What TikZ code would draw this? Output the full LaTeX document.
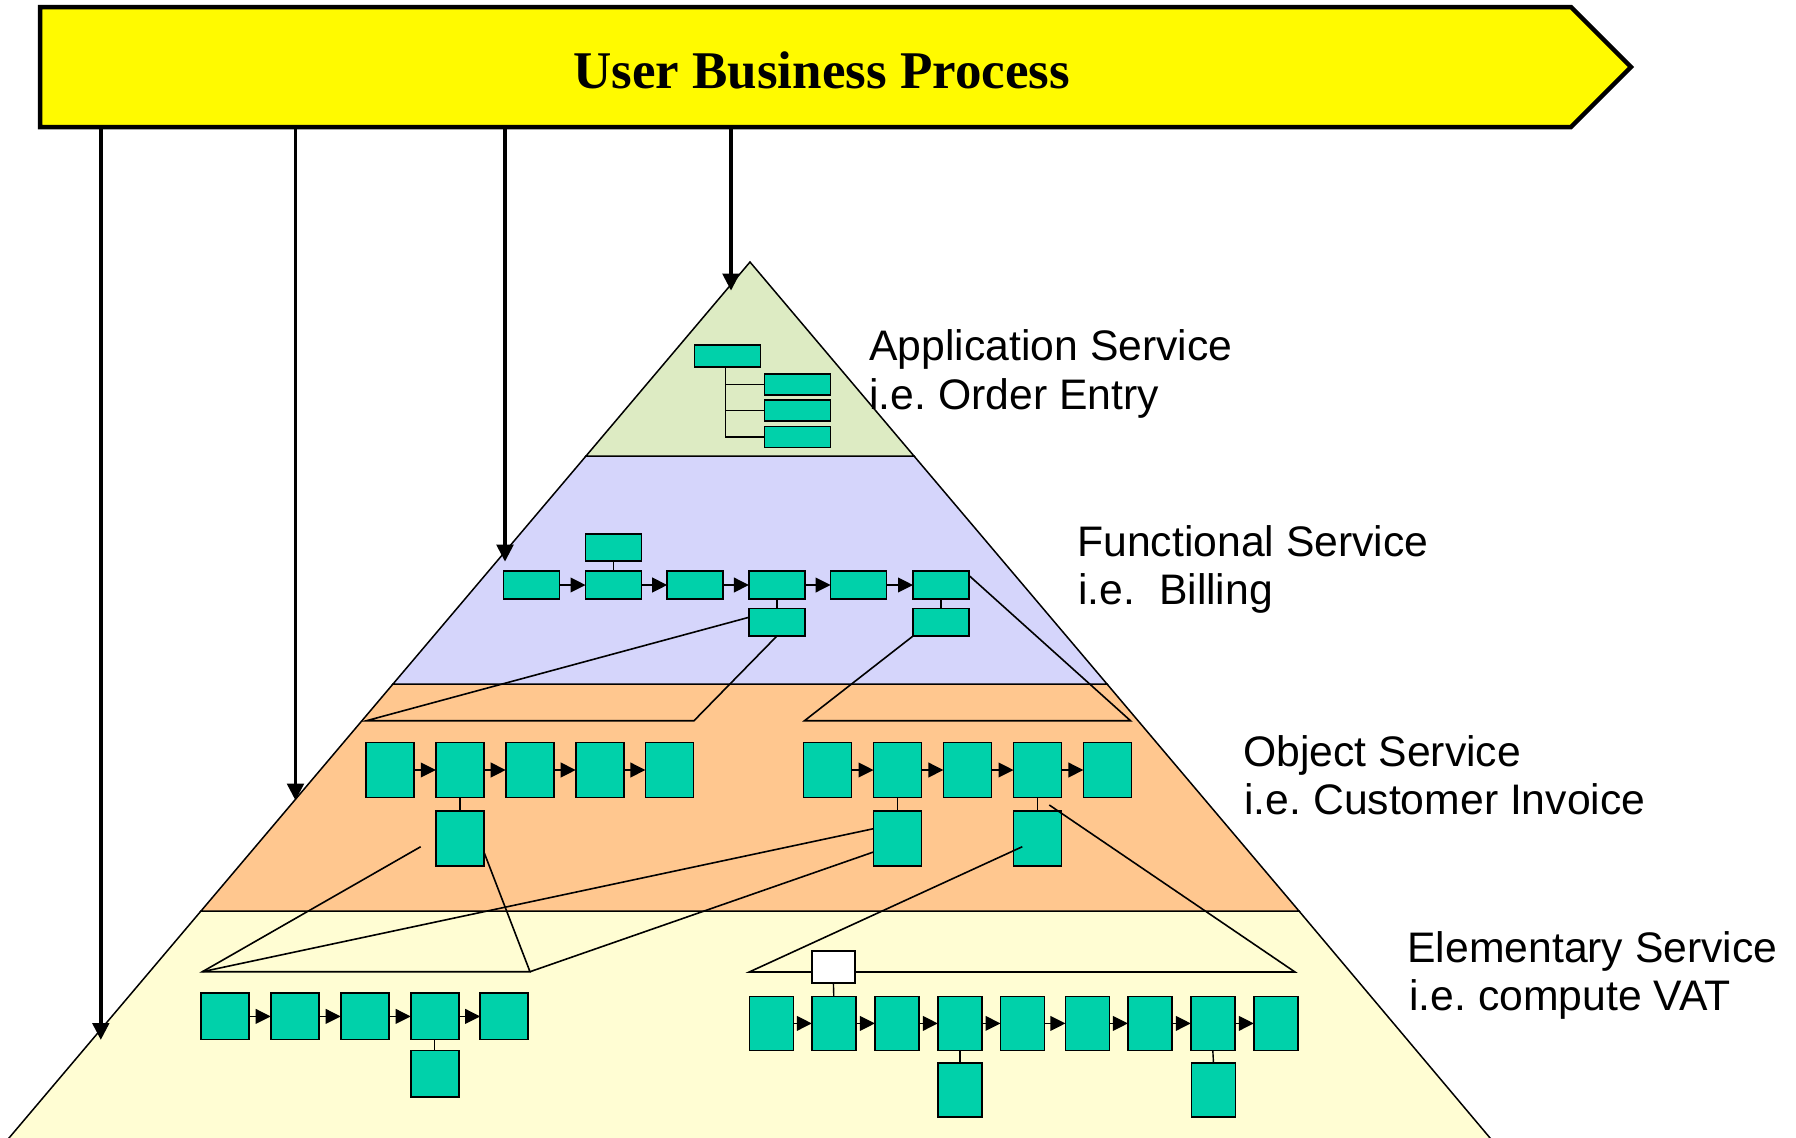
\documentclass[tikz,border=0pt]{standalone}
\usepackage{fontspec}
\newfontfamily\bannerfont{Liberation Serif}
\newfontfamily\labelfont{Liberation Sans}
\usetikzlibrary{arrows.meta,calc}

\definecolor{bannerYellow}{HTML}{FFFA00}
\definecolor{boxTeal}{HTML}{00D1AA}
\definecolor{appGreen}{HTML}{DDEBC3}
\definecolor{funcLav}{HTML}{D5D5FB}
\definecolor{objOrange}{HTML}{FFC78F}
\definecolor{elemYellow}{HTML}{FFFDD3}

\tikzset{
  layer/.style={draw=black, line width=0.75pt, line join=miter},
  tbx/.style={draw=black, fill=boxTeal, line width=0.8pt, inner sep=0pt, outer sep=0pt},
  abox/.style={tbx, minimum width=33pt, minimum height=10.5pt},
  fbox/.style={tbx, minimum width=28pt, minimum height=13.75pt},
  obox/.style={tbx, minimum width=24pt, minimum height=27.5pt},
  elbox/.style={tbx, minimum width=24pt, minimum height=23.25pt},
  erbox/.style={tbx, minimum width=22pt, minimum height=27pt},
  wbox/.style={tbx, fill=white, minimum width=21.5pt, minimum height=15.8pt},
  chain/.style={line width=0.7pt, -{Triangle[length=7.5pt,width=7.4pt]}},
  stem/.style={line width=0.7pt},
  fan/.style={line width=0.8pt},
  drop/.style={line width=1.9pt, -{Triangle[length=8.5pt,width=8.2pt]}},
  banner/.style={draw=black, fill=bannerYellow, line width=2.25pt, line join=miter},
  lbl/.style={font=\labelfont\fontsize{21.35}{24}\selectfont, anchor=base west, inner sep=0pt},
}

\begin{document}
\frenchspacing
\begin{tikzpicture}[x=0.5pt, y=-0.5pt]
\useasboundingbox (0,0) rectangle (1796,1137);

% ---- pyramid layers ----
\filldraw[layer, fill=elemYellow] (201,911) -- (-2,1151) -- (1501,1151) -- (1299,911) -- cycle;
\filldraw[layer, fill=objOrange] (393,684) -- (201,911) -- (1299,911) -- (1107,684) -- cycle;
\filldraw[layer, fill=funcLav] (586,456) -- (393,684) -- (1107,684) -- (914,456) -- cycle;
\filldraw[layer, fill=appGreen] (750,262) -- (586,456) -- (914,456) -- cycle;

% ---- application service ----
\node[abox, minimum height=10.75pt] (a0) at (727.3,356) {};
\node[abox] (a1) at (797.5,384.2) {};
\node[abox] (a2) at (797.5,410.7) {};
\node[abox] (a3) at (797.5,437) {};
\coordinate (aj) at ($(a0.south)+(-1.6,0)$);
\draw[stem] (aj) |- (a3.west);
\draw[stem] (aj |- a1.west) -- (a1.west);
\draw[stem] (aj |- a2.west) -- (a2.west);

% ---- functional service ----
\foreach \n/\x in {1/531.4, 2/613.5, 3/695.2, 4/776.9, 5/858.6, 6/941}
  \node[fbox] (f\n) at (\x,585) {};
\node[fbox] (f2a) at (613.5,547.5) {};
\node[fbox] (f4b) at (776.9,622.3) {};
\node[fbox] (f6b) at (941,622.3) {};
\foreach \i/\j in {1/2,2/3,3/4,4/5,5/6}
  \draw[chain] (f\i) -- (f\j);
\draw[stem] (f2a.south) -- (f2.north);
\draw[stem] (f4.south) -- (f4b.north);
\draw[stem] (f6.south) -- (f6b.north);

% ---- object service ----
\foreach \n/\x in {1/389.7, 2/459.8, 3/529.7, 4/599.7, 5/669.4}
  \node[obox] (ol\n) at (\x,770) {};
\foreach \n/\x in {1/827.5, 2/897.5, 3/967.4, 4/1037.5, 5/1107.4}
  \node[obox] (or\n) at (\x,770) {};
\node[obox] (ol2b) at (459.8,838.3) {};
\node[obox] (or2b) at (897.5,838.3) {};
\node[obox] (or4b) at (1037.5,838.3) {};
\foreach \i/\j in {1/2,2/3,3/4,4/5} {
  \draw[chain] (ol\i) -- (ol\j);
  \draw[chain] (or\i) -- (or\j);
}
\draw[stem] (ol2.south) -- (ol2b.north);
\draw[stem] (or2.south) -- (or2b.north);
\draw[stem] (or4.south) -- (or4b.north);

% ---- elementary service ----
\foreach \n/\x in {1/224.7, 2/294.7, 3/364.7, 4/434.7, 5/504.2}
  \node[elbox] (el\n) at (\x,1016.4) {};
\node[elbox] (el4b) at (434.7,1073.7) {};
\foreach \i/\j in {1/2,2/3,3/4,4/5}
  \draw[chain] (el\i) -- (el\j);
\draw[stem] (el4.south) -- (el4b.north);

\foreach \n/\x in {1/771.6, 2/833.8, 3/896.9, 4/959.8, 5/1022.5, 6/1087.4, 7/1149.9, 8/1212.8, 9/1275.8}
  \node[erbox] (er\n) at (\x,1023.4) {};
\node[erbox] (er4b) at (959.8,1090) {};
\node[erbox] (er8b) at (1213.5,1090) {};
\foreach \i/\j in {1/2,2/3,3/4,4/5,5/6,6/7,7/8,8/9}
  \draw[chain] (er\i) -- (er\j);
\draw[stem] (er4.south) -- (er4b.north);
\draw[stem] (er8.south) -- (er8b.north);

% ---- expansion fans: functional -> object ----
\coordinate (bl1) at (366.5,720.7);
\coordinate (bl2) at (694,720.7);
\coordinate (br1) at (804.5,720.7);
\coordinate (br2) at (1130.5,720.7);
\draw[fan] ($(f4b.west)+(0,-5)$) -- (bl1) -- (bl2) -- (f4b.south);
\draw[fan] (f6b.south west) -- (br1) -- (br2) -- ($(f6.east)+(0,-9.5)$);

% ---- expansion fans: object -> elementary ----
\coordinate (cl1) at (202.4,971.7);
\coordinate (cl2) at (530,971.7);
\coordinate (cr1) at (749.2,972);
\coordinate (cr2) at (1295,972);
\coordinate (lfree) at (420.7,846.7);
\draw[fan] (lfree) -- (cl1) -- (cl2) -- ($(ol2b.east)+(0,13.4)$);
\draw[fan] ($(or2b.west)+(0,-9.6)$) -- (cl1);
\draw[fan] ($(or2b.west)+(0,13.7)$) -- (cl2);
\draw[fan] ($(or4b.center)+(-15.2,8.4)$) -- (cr1) -- (cr2) -- ($(or4b.north)+(11.8,-5.8)$);

% white element sits over the fan line
\node[wbox] (ew) at (833.4,967) {};
\draw[stem] (ew.south) -- (er2.north);

% ---- labels ----
\node[lbl] (t1a) at (869,360.7) {Application Service};
\node[lbl] (t1b) at (869,409) {i.e. Order Entry};
\node[lbl] (t2a) at (1077,556) {Functional Service};
\node[lbl] (t2b) at (1078,604.3) {i.e.\ \ Billing};
\node[lbl] (t3a) at (1243,766.5) {Object Service};
\node[lbl] (t3b) at (1244,814.8) {i.e. Customer Invoice};
\node[lbl] (t4a) at (1407,962) {Elementary Service};
\node[lbl] (t4b) at (1409,1010.3) {i.e. compute VAT};

% ---- user business process banner ----
\draw[banner] (40,7) -- (1571,7) -- (1631,67) -- (1571,127) -- (40,127) -- cycle;
\node[font=\bannerfont\bfseries\fontsize{26.5}{30}\selectfont, anchor=base, inner sep=0pt]
  (ubp) at (821.5,88.3) {User Business Process};

\coordinate (d1s) at (100.8,129); \coordinate (d1e) at (100.8,1040);
\coordinate (d2s) at (295.5,129); \coordinate (d2e) at (295.5,800.6);
\coordinate (d3s) at (505,129);   \coordinate (d3e) at (505,561.7);
\coordinate (d4s) at (731,129);   \coordinate (d4e) at (731,290.7);
\foreach \k in {1,2,3,4}
  \draw[drop] (d\k s) -- (d\k e);
\end{tikzpicture}
\end{document}
